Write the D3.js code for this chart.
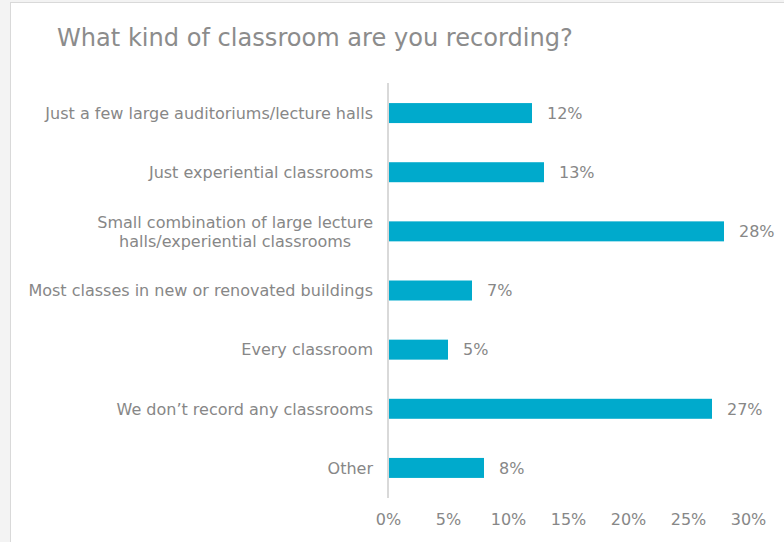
<!DOCTYPE html>
<html>
<head>
<meta charset="utf-8">
<script src="https://cdn.jsdelivr.net/npm/d3@7/dist/d3.min.js"></script>
<style>
  html, body { margin: 0; padding: 0; background: #f3f3f3; }
  svg { display: block; }
</style>
</head>
<body>
<script>
// Survey responses: share of institutions by classroom-recording scope
const categories = [
  "Just a few large auditoriums/lecture halls",
  "Just experiential classrooms",
  "Small combination of large lecture|halls/experiential classrooms",
  "Most classes in new or renovated buildings",
  "Every classroom",
  "We don\u2019t record any classrooms",
  "Other"
];
const values = [12, 13, 28, 7, 5, 27, 8];
const tickValues = [0, 5, 10, 15, 20, 25, 30];
const title = "What kind of classroom are you recording?";

const W = 784, H = 542;
const svg = d3.select("body").append("svg").attr("width", W).attr("height", H);

// white chart panel with a thin frame on the left and top
svg.append("rect").attr("x", 10.5).attr("y", 2.5).attr("width", W + 10).attr("height", H + 10)
  .attr("fill", "#ffffff").attr("stroke", "#d9d9d9").attr("stroke-width", 1);

const font = "'DejaVu Sans', Verdana, sans-serif";
const grey = "#878787";

// title, sized so it spans its intended width
const titleText = svg.append("text").attr("x", 57).attr("y", 46)
  .attr("font-family", font).attr("font-size", 22).attr("fill", "#8c8c8c").text(title);
const tw = titleText.node().getComputedTextLength();
titleText.attr("font-size", 22 * 516 / tw);

const x = d3.scaleLinear().domain([0, 30]).range([388, 748]);
const y = d3.scaleBand().domain(categories).range([83.5, 497.5]).paddingInner(0.662).paddingOuter(0.331);

// bars
svg.append("g").selectAll("rect").data(values).join("rect")
  .attr("x", x(0))
  .attr("y", (d, i) => y(categories[i]))
  .attr("width", d => x(d) - x(0))
  .attr("height", y.bandwidth())
  .attr("fill", "#00aacc");

// value labels
svg.append("g").selectAll("text").data(values).join("text")
  .attr("x", d => x(d) + 15)
  .attr("y", (d, i) => y(categories[i]) + y.bandwidth() / 2)
  .attr("dy", "0.36em")
  .attr("font-family", font).attr("font-size", 16).attr("fill", grey)
  .text(d => d + "%");

// category labels (split on | for two-line labels)
const cat = svg.append("g").selectAll("text").data(categories).join("text")
  .attr("text-anchor", "middle")
  .attr("font-family", font).attr("font-size", 16).attr("fill", grey);
cat.each(function(d) {
  const lines = d.split("|");
  const cy = y(d) + y.bandwidth() / 2;
  const t = d3.select(this);
  const lh = 19;
  lines.forEach((ln, k) => {
    t.append("tspan")
      .attr("y", cy + (k - (lines.length - 1) / 2) * lh)
      .attr("dy", "0.36em")
      .text(ln);
  });
});
// right-align single-line labels, center two-line labels on their widest line
cat.each(function(d) {
  const t = d3.select(this);
  const lines = d.split("|");
  if (lines.length === 1) {
    t.attr("text-anchor", "end").selectAll("tspan").attr("x", 373);
  } else {
    let w = 0;
    t.selectAll("tspan").each(function() { w = Math.max(w, this.getComputedTextLength()); });
    t.selectAll("tspan").attr("x", 373 - w / 2);
  }
});

// vertical category axis line
svg.append("line").attr("x1", 388).attr("x2", 388).attr("y1", 83).attr("y2", 498)
  .attr("stroke", "#d9d9d9").attr("stroke-width", 2);

// value axis tick labels
const xAxis = d3.axisBottom(x).tickValues(tickValues).tickFormat(d => d + "%").tickSize(0).tickPadding(0);
const ax = svg.append("g").attr("transform", "translate(0,514)").call(xAxis);
ax.select(".domain").remove();
ax.selectAll("text").attr("font-family", font).attr("font-size", 16).attr("fill", grey).attr("dy", "0.71em");
</script>
</body>
</html>
